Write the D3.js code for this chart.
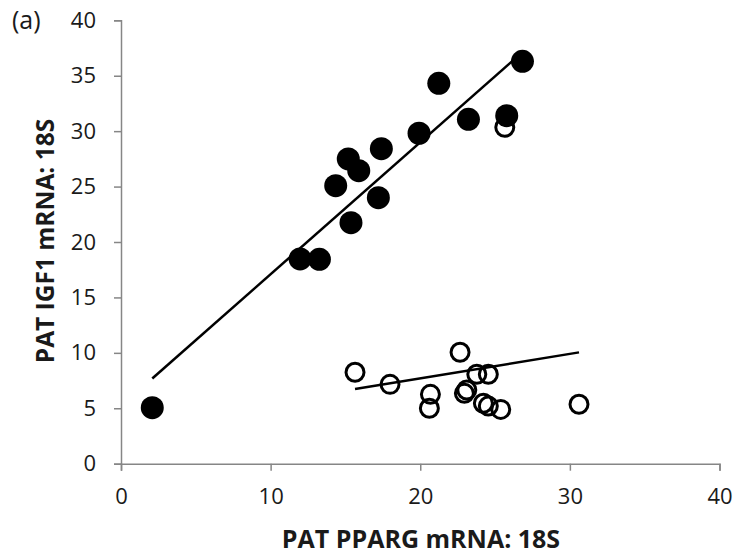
<!DOCTYPE html>
<html>
<head>
<meta charset="utf-8">
<script src="https://cdn.jsdelivr.net/npm/d3@7"></script>
<style>
  body { margin: 0; background: #fff; }
  svg text { font-family: "Open Sans", sans-serif; fill: #1a1a1a; }
</style>
</head>
<body>
<svg id="chart" width="740" height="560"></svg>
<script>
// filled circles
const filledX = [2.09, 11.97, 13.26, 14.35, 15.19, 15.89, 15.37, 17.2, 17.4, 19.92, 21.24, 23.22, 25.78, 26.83];
const filledY = [5.05, 18.47, 18.44, 25.08, 27.49, 26.43, 21.74, 24.0, 28.42, 29.81, 34.32, 31.07, 31.39, 36.3];
// open circles
const openX = [15.64, 17.98, 20.68, 20.61, 22.66, 22.95, 23.11, 23.78, 24.55, 24.22, 24.55, 25.38, 30.61, 25.65];
const openY = [8.25, 7.16, 6.26, 5.0, 10.05, 6.35, 6.65, 8.07, 8.07, 5.45, 5.2, 4.9, 5.36, 30.35];

const xTicks = [0, 10, 20, 30, 40];
const yTicks = [0, 5, 10, 15, 20, 25, 30, 35, 40];

const svg = d3.select("#chart");

const x = d3.scaleLinear().domain([0, 40]).range([121, 719.5]);
const y = d3.scaleLinear().domain([0, 40]).range([463.7, 20.3]);

const axisColor = "#868686";

const xAxis = svg.append("g")
  .attr("transform", `translate(0,${y(0)})`)
  .call(d3.axisBottom(x).tickValues(xTicks).tickSize(7).tickPadding(18));
const yAxis = svg.append("g")
  .attr("transform", `translate(${x(0)},0)`)
  .call(d3.axisLeft(y).tickValues(yTicks).tickSize(7).tickPadding(18));

[xAxis, yAxis].forEach(a => {
  a.attr("font-size", 22).attr("font-family", "'Open Sans', sans-serif");
  a.select(".domain").attr("stroke", axisColor).attr("stroke-width", 1.5);
  a.selectAll(".tick line").attr("stroke", axisColor).attr("stroke-width", 1.5);
  a.selectAll(".tick text").attr("fill", "#1a1a1a");
});

// least-squares trend line over the series' x range
function trend(xs, ys) {
  const mx = d3.mean(xs), my = d3.mean(ys);
  let sxy = 0, sxx = 0;
  xs.forEach((v, i) => { sxy += (v - mx) * (ys[i] - my); sxx += (v - mx) * (v - mx); });
  const b = sxy / sxx, a = my - b * mx;
  const [x0, x1] = d3.extent(xs);
  return [[x0, a + b * x0], [x1, a + b * x1]];
}

const line = d3.line().x(d => x(d[0])).y(d => y(d[1]));

const openPts = openX.map((v, i) => [v, openY[i]]);
const filledPts = filledX.map((v, i) => [v, filledY[i]]);

svg.append("g").selectAll("circle")
  .data(openPts)
  .join("circle")
  .attr("cx", d => x(d[0]))
  .attr("cy", d => y(d[1]))
  .attr("r", 9)
  .attr("fill", "none")
  .attr("stroke", "#000")
  .attr("stroke-width", 3);

svg.append("g").selectAll("circle")
  .data(filledPts)
  .join("circle")
  .attr("cx", d => x(d[0]))
  .attr("cy", d => y(d[1]))
  .attr("r", 11.5)
  .attr("fill", "#000");

svg.append("path")
  .attr("d", line(trend(filledX, filledY)))
  .attr("stroke", "#000").attr("stroke-width", 2.5).attr("fill", "none");
svg.append("path")
  .attr("d", line(trend(openX, openY)))
  .attr("stroke", "#000").attr("stroke-width", 2.5).attr("fill", "none");

svg.append("text")
  .attr("x", 421).attr("y", 548)
  .attr("text-anchor", "middle")
  .style("font-size", "25px").style("font-weight", "bold")
  .text("PAT PPARG mRNA: 18S");

svg.append("text")
  .attr("transform", `translate(54,241) rotate(-90)`)
  .attr("text-anchor", "middle")
  .style("font-size", "24.5px").style("font-weight", "bold")
  .text("PAT IGF1 mRNA: 18S");

svg.append("text")
  .attr("x", 12).attr("y", 29)
  .style("font-size", "25px")
  .text("(a)");
</script>
</body>
</html>
